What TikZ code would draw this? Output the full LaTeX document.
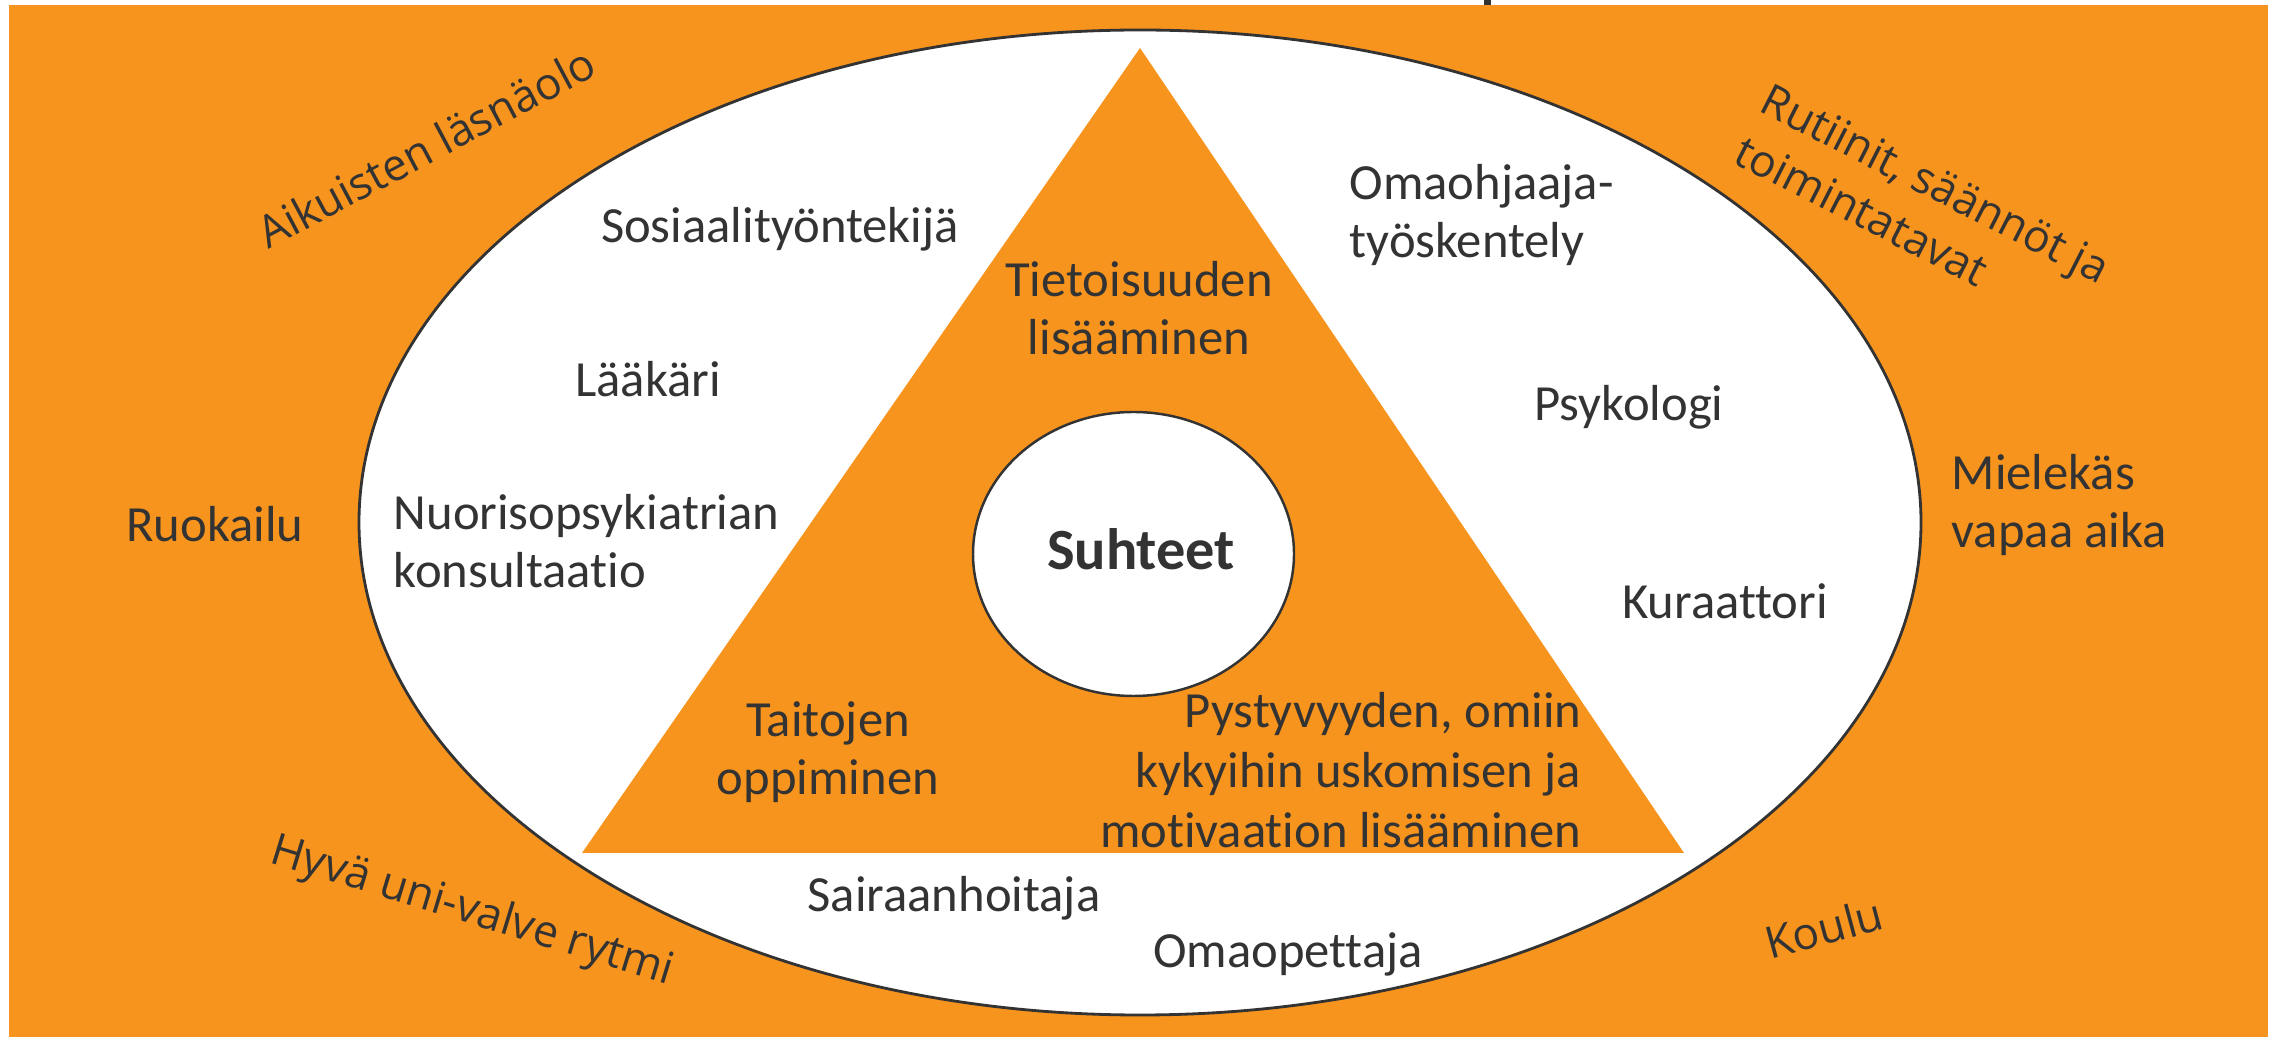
\documentclass[tikz,border=0pt]{standalone}
\usepackage{fontspec}
\setmainfont{Carlito}[RawFeature={-liga}]
\newfontfamily\osfont{Open Sans}
\definecolor{org}{RGB}{247,148,30}
\definecolor{ink}{RGB}{51,51,51}
\begin{document}
\begin{tikzpicture}[x=0.01cm,y=-0.01cm,
  lbl/.style={text=ink, inner sep=0, font=\fontsize{14.4}{16.5}\selectfont},
  rot/.style={text=ink, inner sep=0, font=\osfont\fontsize{12.6}{16.5}\selectfont},
  outline/.style={draw=ink, line width=0.8pt, fill=white}]
\useasboundingbox (0,0) rectangle (2272,1037);
\fill[white] (0,0) rectangle (2272,1037);
\fill[org] (9,5) rectangle (2268,1037);
\fill[ink] (1484,0) rectangle (1491,5);
% outer ellipse
\filldraw[outline] (1140,522.5) ellipse [x radius=781, y radius=492.5];
% triangle
\fill[org] (1140,48) -- (582,853) -- (1684,853) -- cycle;
% inner ellipse
\filldraw[outline, line width=0.7pt] (1133.5,554) ellipse [x radius=160.5, y radius=142];
% labels inside the big ellipse (base anchor = baseline of last line)
\node[lbl, anchor=base] (sos) at (780,243) {Sosiaalityöntekijä};
\node[lbl, anchor=base] (laak) at (648,397) {Lääkäri};
\node[lbl, anchor=base west, align=left] (nuor) at (393,588) {Nuorisopsykiatrian\\konsultaatio};
\node[lbl, anchor=base west, align=left] (omaoh) at (1349,258) {Omaohjaaja-\\työskentely};
\node[lbl, anchor=base] (psyk) at (1629,421) {Psykologi};
\node[lbl, anchor=base] (kur) at (1725,619) {Kuraattori};
\node[lbl, anchor=base] (sair) at (954,912) {Sairaanhoitaja};
\node[lbl, anchor=base] (omaop) at (1288,968) {Omaopettaja};
% triangle labels
\node[lbl, anchor=base, align=center] (tiet) at (1139,355) {Tietoisuuden\\lisääminen};
\node[lbl, anchor=base, align=center] (tait) at (828,795) {Taitojen\\oppiminen};
\node[lbl, anchor=base east, align=right, font=\fontsize{14.4}{17}\selectfont] (pyst) at (1582,847) {Pystyvyyden, omiin\\kykyihin uskomisen ja\\motivaation lisääminen};
\node[text=ink, inner sep=0, anchor=base, font=\bfseries\fontsize{16.6}{20}\selectfont] (suht) at (1141,570) {Suhteet};
% outer labels
\node[lbl, anchor=base] (ruok) at (215,542) {Ruokailu};
\node[lbl, anchor=base west, align=left] (miel) at (1951,548) {Mielekäs\\vapaa aika};
\node[rot, anchor=base west, rotate=28] (aik) at (268,250) {Aikuisten läsnäolo};
\node[rot, anchor=base west, align=left, rotate=-27] (rut) at (1731,162) {Rutiinit, säännöt ja\\toimintatavat};
\node[rot, anchor=base west, rotate=-17] (hyva) at (268,862) {Hyvä uni-valve rytmi};
\node[rot, anchor=base west, rotate=15] (koulu) at (1770,960) {Koulu};
\end{tikzpicture}
\end{document}
